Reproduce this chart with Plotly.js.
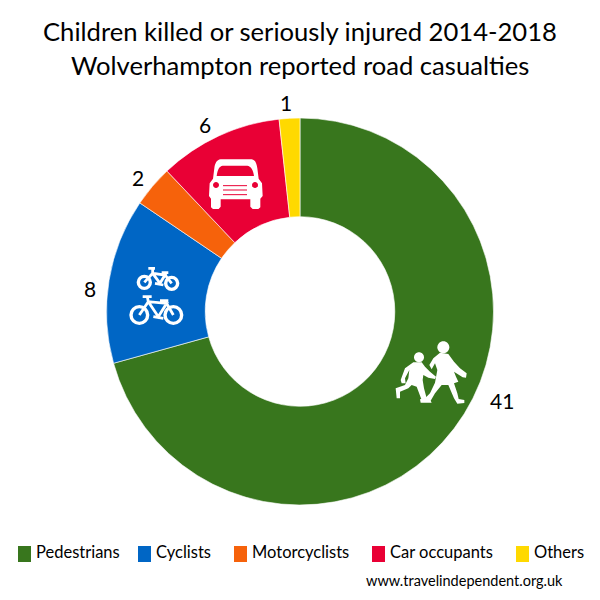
<!DOCTYPE html>
<html><head><meta charset="utf-8">
<script src="https://cdn.plot.ly/plotly-3.0.1.min.js"></script>
<style>html,body{margin:0;padding:0;background:#fff}</style></head>
<body><div id="chart" style="width:600px;height:600px"></div>
<script>
var categories = ["Pedestrians","Cyclists","Motorcyclists","Car occupants","Others"];
var values = [41,8,2,6,1];
var colors = ["#38761d","#0066c5","#f6620b","#e90035","#ffd900"];
var titleLines = ["Children killed or seriously injured 2014-2018","Wolverhampton reported road casualties"];
var sourceText = "www.travelindependent.org.uk";
var FONT = "Lato, Carlito, Calibri, sans-serif";
var W = 600, H = 600;
var valueLabelPos = [[502,400],[90,288],[138,178],[205,124],[286,103]];
var legendSwatchX = [18,138,234,372,516];
var legendTextX = [36,156,252,390,534];

function conv(path, ox, oy, k){
  return path.replace(/(-?[\d.]+),(-?[\d.]+)/g, function(m,a,b){
    return ((ox + a/k)/W).toFixed(5) + "," + (1-(oy + b/k)/H).toFixed(5);
  });
}
function circ(cx,cy,r){
  var c = r*0.5523;
  return "M"+(cx-r)+","+cy+
   " C"+(cx-r)+","+(cy-c)+" "+(cx-c)+","+(cy-r)+" "+cx+","+(cy-r)+
   " C"+(cx+c)+","+(cy-r)+" "+(cx+r)+","+(cy-c)+" "+(cx+r)+","+cy+
   " C"+(cx+r)+","+(cy+c)+" "+(cx+c)+","+(cy+r)+" "+cx+","+(cy+r)+
   " C"+(cx-c)+","+(cy+r)+" "+(cx-r)+","+(cy+c)+" "+(cx-r)+","+cy+" Z";
}
function fillShape(path, color, o){
  return {type:"path", xref:"paper", yref:"paper", path:conv(path,o[0],o[1],o[2]), fillcolor:color, line:{width:0}, layer:"above"};
}
function strokeShape(path, color, w, o){
  return {type:"path", xref:"paper", yref:"paper", path:conv(path,o[0],o[1],o[2]), line:{color:color,width:w}, layer:"above"};
}
var carO = [110,100,3], pedO = [380,330,3];
var shapes = [];
// car
shapes.push(fillShape("M332,178 L425,178 C436,180 440,190 442,205 L446,236 L456,250 L458,288 L451,296 L451,322 L445,327 L428,327 L421,320 L421,298 L332,298 L332,320 L326,327 L309,327 L303,322 L303,296 L297,288 L299,250 L309,236 L313,205 C315,190 320,180 332,178 Z","#fff",carO));
shapes.push(fillShape("M338,197 L412,197 C422,198 430,210 432,228 L320,228 C322,210 328,198 338,197 Z",colors[3],carO));
shapes.push(fillShape(circ(318,255,9),colors[3],carO));
shapes.push(fillShape(circ(435,255,9),colors[3],carO));
[257,270,284].forEach(function(y){
  shapes.push(strokeShape("M339,"+y+" L411,"+y,colors[3],1,carO));
});
// bikes
var bikeO = [110,100,3];
[[103,547,18],[185,550,18],[88,645,25],[190,645,25]].forEach(function(c){
  shapes.push(strokeShape(circ(c[0],c[1],c[2]),"#fff",3.4,bikeO));
});
["M103,547 L128,520 L165,525 L150,550 L128,520 M165,525 L185,550 M115,505 L135,505 M128,505 L128,520 M155,518 L175,518 M135,550 L160,555",
 "M88,645 L115,605 L170,610 L145,650 L115,605 M170,610 L190,645 M98,590 L125,590 M112,590 L115,605 M150,602 L175,602 M130,650 L160,655"].forEach(function(p){
  shapes.push(strokeShape(p,"#fff",2.8,bikeO));
});
// pedestrians
shapes.push(fillShape(circ(190,52,18),"#fff",pedO));
shapes.push(fillShape("M180,68 L205,72 L222,95 L240,115 L260,130 L258,143 L248,142 L222,125 L228,140 L235,155 L222,160 L232,190 L236,207 L253,210 L253,219 L232,221 L222,205 L205,165 L185,165 L165,190 L152,212 L155,218 L122,218 L120,208 L135,205 L150,190 L165,158 L172,120 L165,100 L155,118 L148,105 L160,85 Z","#fff",pedO));
shapes.push(fillShape(circ(117,82,15),"#fff",pedO));
shapes.push(fillShape("M100,97 L125,97 L135,110 L150,125 L168,140 L165,147 L145,143 L130,135 L128,150 L132,175 L140,205 L125,210 L110,170 L95,165 L85,175 L60,185 L60,205 L50,205 L47,175 L75,165 L85,145 L88,120 L75,145 L77,160 L65,160 L62,150 L75,115 Z","#fff",pedO));
// legend swatches
categories.forEach(function(c,i){
  shapes.push({type:"rect",xref:"paper",yref:"paper",x0:legendSwatchX[i]/W,x1:(legendSwatchX[i]+13)/W,y0:1-562/H,y1:1-546/H,fillcolor:colors[i],line:{width:0}});
});

var annotations = [];
function txt(s,x,y,size,anchor){
  annotations.push({text:s,xref:"paper",yref:"paper",x:x/W,y:1-y/H,xanchor:anchor,yanchor:"middle",showarrow:false,font:{family:FONT,size:size,color:"#000"}});
}
txt(titleLines[0],300,31,25.6,"center");
txt(titleLines[1],300,65,25.6,"center");
values.forEach(function(v,i){ txt(String(v),valueLabelPos[i][0],valueLabelPos[i][1],21,"center"); });
categories.forEach(function(c,i){ txt(c,legendTextX[i]-2,552,16.5,"left"); });
txt(sourceText,364,580,14.5,"left");

var R = 193.5, CX = 300, CY = 311.5;
Plotly.newPlot("chart",[{
  type:"pie", labels:categories, values:values, hole:0.49, sort:false, direction:"clockwise", rotation:0,
  marker:{colors:colors,line:{color:"#fff",width:0.6}}, textinfo:"none", hoverinfo:"label+value",
  domain:{x:[(CX-R)/W,(CX+R)/W],y:[1-(CY+R)/H,1-(CY-R)/H]}
}],{
  width:W,height:H,margin:{l:0,r:0,t:0,b:0},showlegend:false,paper_bgcolor:"#fff",
  shapes:shapes,annotations:annotations
},{displayModeBar:false,staticPlot:true});
</script></body></html>
